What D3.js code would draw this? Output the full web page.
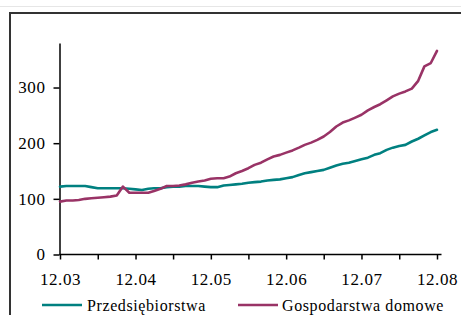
<!DOCTYPE html>
<html>
<head>
<meta charset="utf-8">
<script src="https://cdn.jsdelivr.net/npm/d3@7"></script>
<style>
  html, body { margin: 0; padding: 0; background: #fff; }
  svg { display: block; }
</style>
</head>
<body>
<div id="chart"></div>
<script>
// monthly readings, 12.2003 .. 12.2008 (Dec 2003 = 100 basis)
const startMonth = new Date(2003, 11, 1);
const seriesNames = ['Przedsiębiorstwa', 'Gospodarstwa domowe'];
const seriesColors = ['#008080', '#993366'];

const przedsiebiorstwa = [
  122, 123, 123, 123, 123, 121, 119, 119, 119, 119, 119, 118, 117,
  116, 118, 119, 119, 121, 122, 122, 123, 123, 123, 122, 121,
  121, 124, 125, 126, 127, 129, 130, 131, 133, 134, 135, 137,
  139, 143, 146, 148, 150, 152, 156, 160, 163, 165, 168, 171,
  174, 179, 182, 188, 192, 195, 197, 203, 208, 214, 220, 224
];
const gospodarstwa = [
  95, 97, 97, 98, 100, 101, 102, 103, 104, 106, 122, 111, 111,
  111, 111, 114, 118, 123, 123, 124, 126, 129, 131, 133, 136,
  137, 137, 140, 146, 150, 155, 161, 165, 171, 176, 179, 183,
  187, 192, 197, 201, 206, 212, 220, 230, 237, 241, 246, 251,
  259, 265, 270, 277, 284, 289, 293, 298, 312, 338, 344, 366
];
const yTicks = [0, 100, 200, 300];

const width = 461;
const height = 315;
const serif = "'Liberation Serif', 'DejaVu Serif', 'Times New Roman', serif";

const svg = d3.select('#chart')
  .append('svg')
  .attr('width', width)
  .attr('height', height);

// page rule + chart frame
svg.append('line')
  .attr('x1', 0).attr('x2', width)
  .attr('y1', 6.5).attr('y2', 6.5)
  .attr('stroke', '#e6e6e6').attr('stroke-width', 1);
svg.append('path')
  .attr('d', `M10,${height + 2}V13H${width + 2}`)
  .attr('fill', 'none')
  .attr('stroke', '#333')
  .attr('stroke-width', 2);

const dates = przedsiebiorstwa.map((d, i) => d3.timeMonth.offset(startMonth, i));

const x = d3.scaleTime()
  .domain([startMonth, new Date(2008, 11, 1)])
  .range([60, 437]);
const y = d3.scaleLinear()
  .domain([0, 380])
  .range([254.5, 43]);

// y axis
const yAxis = svg.append('g')
  .attr('transform', 'translate(59.5,0)')
  .call(d3.axisLeft(y).tickValues(yTicks).tickSize(6).tickSizeOuter(0).tickPadding(8));
yAxis.attr('font-family', serif).attr('font-size', 17);
yAxis.select('.domain').attr('stroke', '#000').attr('stroke-width', 1.5);
yAxis.selectAll('.tick line').attr('stroke', '#000').attr('stroke-width', 1.5);
yAxis.selectAll('.tick text')
  .attr('letter-spacing', 0.6)
  .attr('fill', '#000');

// x axis, ticks every 6 months, labels on December only
const xTicks = d3.range(0, 61, 6).map(i => d3.timeMonth.offset(startMonth, i));
const xAxis = svg.append('g')
  .attr('transform', 'translate(0,254.5)')
  .call(d3.axisBottom(x)
    .tickValues(xTicks)
    .tickSize(5)
    .tickSizeOuter(0)
    .tickPadding(13)
    .tickFormat(d => d.getMonth() === 11 ? d3.timeFormat('%m.%y')(d) : ''));
xAxis.attr('font-family', serif).attr('font-size', 17);
xAxis.select('.domain').remove();
xAxis.append('line')
  .attr('x1', 59.5).attr('x2', 441.5)
  .attr('stroke', '#000').attr('stroke-width', 1.5);
xAxis.selectAll('.tick line').attr('stroke', '#000').attr('stroke-width', 1.5);
xAxis.selectAll('.tick text')
  .attr('letter-spacing', 0.6)
  .attr('fill', '#000');

// lines
const line = d3.line()
  .x((d, i) => x(dates[i]))
  .y(d => y(d));

[przedsiebiorstwa, gospodarstwa].forEach((values, k) => {
  svg.append('path')
    .datum(values)
    .attr('d', line)
    .attr('fill', 'none')
    .attr('stroke', seriesColors[k])
    .attr('stroke-width', 2.6)
    .attr('stroke-linejoin', 'round')
    .attr('stroke-linecap', 'round');
});

// legend
const legendX = [42, 238];
seriesNames.forEach((name, k) => {
  const g = svg.append('g').attr('transform', `translate(${legendX[k]},305)`);
  g.append('line')
    .attr('x1', 0).attr('x2', 40)
    .attr('stroke', seriesColors[k])
    .attr('stroke-width', 2.6);
  g.append('text')
    .attr('x', 45 - k)
    .attr('y', 6)
    .attr('font-family', serif)
    .attr('font-size', 16)
    .attr('letter-spacing', 0.6)
    .text(name);
});
</script>
</body>
</html>
